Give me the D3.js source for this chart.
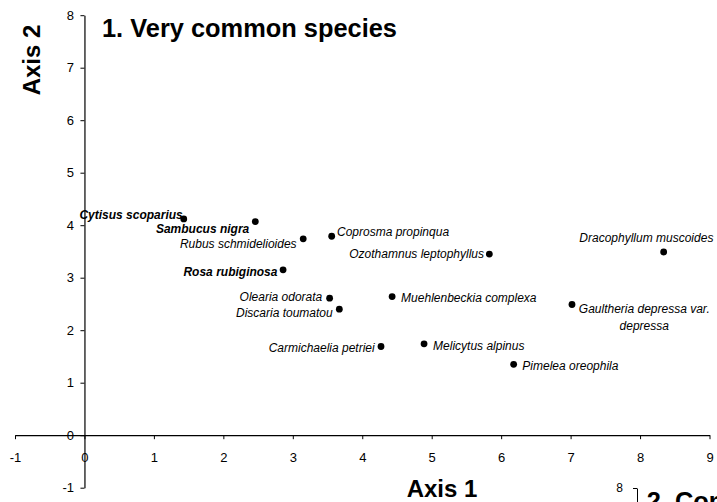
<!DOCTYPE html>
<html>
<head>
<meta charset="utf-8">
<script src="https://cdn.jsdelivr.net/npm/d3@7"></script>
<style>
  html, body { margin: 0; padding: 0; background: #fff; }
  svg { display: block; font-family: "Liberation Sans", Arial, sans-serif; }
</style>
</head>
<body>
<svg id="chart" width="717" height="502"></svg>
<script>
// ---- data ----
const species = [
  "Cytisus scoparius", "Sambucus nigra", "Rubus schmidelioides", "Coprosma propinqua",
  "Ozothamnus leptophyllus", "Dracophyllum muscoides", "Rosa rubiginosa", "Olearia odorata",
  "Discaria toumatou", "Muehlenbeckia complexa", "Gaultheria depressa var. depressa",
  "Carmichaelia petriei", "Melicytus alpinus", "Pimelea oreophila"
];
const axis1 = [1.43, 2.46, 3.15, 3.56, 5.83, 8.34, 2.86, 3.53, 3.67, 4.43, 7.02, 4.27, 4.89, 6.18];
const axis2 = [4.12, 4.07, 3.74, 3.79, 3.45, 3.49, 3.15, 2.61, 2.40, 2.64, 2.49, 1.69, 1.74, 1.35];
const introduced = [true, true, false, false, false, false, true, false, false, false, false, false, false, false];
const xTicks = [-1, 0, 1, 2, 3, 4, 5, 6, 7, 8, 9];
const yTicks = [-1, 0, 1, 2, 3, 4, 5, 6, 7, 8];
const title1 = "1. Very common species";
const title2 = "2. Common species";

// ---- label placement (layout only) ----
const labelLines = [
  ["Cytisus scoparius"], ["Sambucus nigra"], ["Rubus schmidelioides"], ["Coprosma propinqua"],
  ["Ozothamnus leptophyllus"], ["Dracophyllum muscoides"], ["Rosa rubiginosa"], ["Olearia odorata"],
  ["Discaria toumatou"], ["Muehlenbeckia complexa"], ["Gaultheria depressa var.", "depressa"],
  ["Carmichaelia petriei"], ["Melicytus alpinus"], ["Pimelea oreophila"]
];
const labelAnchor = ["end","end","end","start","end","middle","end","end","end","start","middle","end","start","start"];
const labelDx = [-1, -6, -6.6, 5.3, -5.3, -17.3, -5.6, -7.3, -6.6, 9, 72.3, -6.3, 9, 8.7];
const labelDy = [0, 11.3, 9.3, -0.7, 4.3, -10.4, 6, 3.3, 7.6, 5.3, 8.6, 6, 6, 5.3];

const svg = d3.select("#chart");
const x = d3.scaleLinear().domain([-1, 9]).range([15, 709.5]);
const y = d3.scaleLinear().domain([-1, 8]).range([487.7, 15.2]);
const fmt = d => String(d);

// axes
const xAxis = d3.axisBottom(x).tickValues(xTicks).tickFormat(fmt)
  .tickSize(4).tickSizeOuter(0).tickPadding(14);
const yAxis = d3.axisLeft(y).tickValues(yTicks).tickFormat(fmt)
  .tickSize(4).tickSizeOuter(0).tickPadding(6.5);

const gx = svg.append("g").attr("transform", `translate(0,${y(0)})`).call(xAxis);
const gy = svg.append("g").attr("transform", `translate(${x(0)},0)`).call(yAxis);
[gx, gy].forEach(g => {
  g.selectAll("path.domain").attr("stroke", "#000").attr("stroke-width", 1.2);
  g.selectAll(".tick line").attr("stroke", "#000").attr("stroke-width", 1);
  g.selectAll(".tick text").attr("font-size", 13).attr("fill", "#000")
    .attr("font-family", "Liberation Sans, Arial, sans-serif");
});

// points
const idx = d3.range(species.length);
svg.append("g").selectAll("circle").data(idx).join("circle")
  .attr("cx", i => x(axis1[i]))
  .attr("cy", i => y(axis2[i]))
  .attr("r", 3.4)
  .attr("fill", "#000");

// labels
const lab = svg.append("g").selectAll("text").data(idx).join("text")
  .attr("x", i => x(axis1[i]) + labelDx[i])
  .attr("y", i => y(axis2[i]) + labelDy[i])
  .attr("text-anchor", i => labelAnchor[i])
  .attr("font-size", 12)
  .attr("font-style", "italic")
  .attr("font-weight", i => introduced[i] ? "bold" : "normal")
  .attr("fill", "#000");
lab.each(function(i) {
  const t = d3.select(this);
  labelLines[i].forEach((line, k) => {
    t.append("tspan")
      .attr("x", x(axis1[i]) + labelDx[i])
      .attr("dy", k === 0 ? 0 : 17)
      .text(line);
  });
});

// titles
svg.append("text").attr("x", 102).attr("y", 36.7)
  .attr("font-size", 25.4).attr("font-weight", "bold").attr("fill", "#000")
  .text(title1);
svg.append("text").attr("transform", "translate(39.5,60) rotate(-90)")
  .attr("text-anchor", "middle")
  .attr("font-size", 24).attr("font-weight", "bold").attr("fill", "#000")
  .text("Axis 2");
svg.append("text").attr("x", 442).attr("y", 496.7)
  .attr("text-anchor", "middle")
  .attr("font-size", 24).attr("font-weight", "bold").attr("fill", "#000")
  .text("Axis 1");

// next panel (partially visible at the bottom edge)
const y2 = d3.scaleLinear().domain([-1, 8]).range([488 + 472.5, 488]);
const gy2 = svg.append("g").attr("transform", "translate(637,0)")
  .call(d3.axisLeft(y2).tickValues([8]).tickFormat(fmt).tickSize(4).tickSizeOuter(0).tickPadding(10));
gy2.selectAll("path.domain").attr("stroke", "#000").attr("stroke-width", 1);
gy2.selectAll(".tick line").attr("stroke", "#000");
gy2.selectAll(".tick text").attr("font-size", 12).attr("fill", "#000")
  .attr("font-family", "Liberation Sans, Arial, sans-serif");
svg.append("text").attr("x", 646.7).attr("y", 510)
  .attr("font-size", 25.4).attr("font-weight", "bold").attr("fill", "#000")
  .text(title2);
</script>
</body>
</html>
